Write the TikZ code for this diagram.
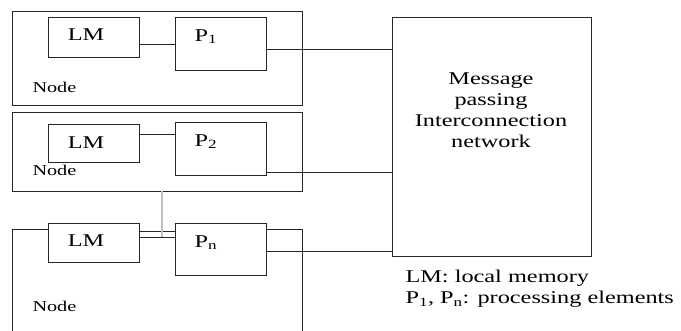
\documentclass[tikz,border=0pt]{standalone}
\usepackage{fontspec}
\setmainfont{Liberation Serif}[FakeStretch=1.35]
\begin{document}
\begin{tikzpicture}[x=1pt,y=-1pt,line width=1pt,
  ln/.style={draw=black!85},
  box/.style={draw=black!85,rectangle,anchor=north west,inner sep=0pt,outer sep=0pt},
  lbl/.style={font=\fontsize{18}{21}\selectfont,inner sep=0pt,text=black},
  small/.style={font=\fontsize{15}{18}\selectfont,inner sep=0pt,text=black},
  gline/.style={draw=black!25,line width=1.2pt}]
\useasboundingbox (0,0) rectangle (681,330);
% node 1
\node[box,minimum width=290pt,minimum height=94pt] (n1) at (12,11) {};
\node[box,minimum width=91pt,minimum height=40pt] (lm1) at (48,17) {};
\node[box,minimum width=91pt,minimum height=53pt] (p1) at (175,17) {};
\node[lbl] (lm1t) at (86,35) {LM};
\node[lbl,anchor=base west] (p1t) at (194,41) {P\textsubscript{1}};
\node[small,anchor=base west] (n1t) at (32,92) {Node};
% node 2
\node[box,minimum width=290pt,minimum height=79pt] (n2) at (12,112) {};
\node[box,minimum width=91pt,minimum height=38pt] (lm2) at (48,124) {};
\node[box,minimum width=91pt,minimum height=53pt] (p2) at (175,122) {};
\node[lbl] (lm2t) at (86,143) {LM};
\node[lbl,anchor=base west] (p2t) at (194,146) {P\textsubscript{2}};
\node[small,anchor=base west] (n2t) at (32,175) {Node};
% node n
\node[box,minimum width=91pt,minimum height=39pt] (lmn) at (48,223) {};
\node[box,minimum width=91pt,minimum height=52pt] (pn) at (175,223) {};
\node[lbl] (lmnt) at (86,241) {LM};
\node[lbl,anchor=base west] (pnt) at (194,247) {P\textsubscript{n}};
\node[small,anchor=base west] (nnt) at (32,311) {Node};
\coordinate (nl) at (12,331);
\coordinate (nr) at (302,331);
\draw[ln] (lmn.west |- 0,229) -| (nl);
\draw[ln] (pn.east |- 0,229) -| (nr);
% network
\node[box,minimum width=199pt,minimum height=239pt] (net) at (392,17) {};
\node[lbl,align=center,anchor=north] (nett) at (491,72) {Message\\passing\\Interconnection\\network};
% legend
\node[lbl,align=left,anchor=north west] (leg) at (405,270) {LM: local memory\\P\textsubscript{1}, P\textsubscript{n}: processing elements};
% connectors
\draw[ln] (lm1.east |- 0,44) -- (p1.west |- 0,44);
\draw[ln] (lm2.east |- 0,134) -- (p2.west |- 0,134);
\draw[ln] (lmn.east |- 0,231) -- (pn.west |- 0,231);
\draw[ln] (lmn.east |- 0,237) -- (pn.west |- 0,237);
\draw[ln] (p1.east |- 0,49) -- (net.west |- 0,49);
\draw[ln] (p2.east |- 0,172) -- (net.west |- 0,172);
\draw[ln] (pn.east |- 0,251) -- (net.west |- 0,251);
\draw[gline] (n2.south -| 162,0) -- (162,237);
\end{tikzpicture}
\end{document}
